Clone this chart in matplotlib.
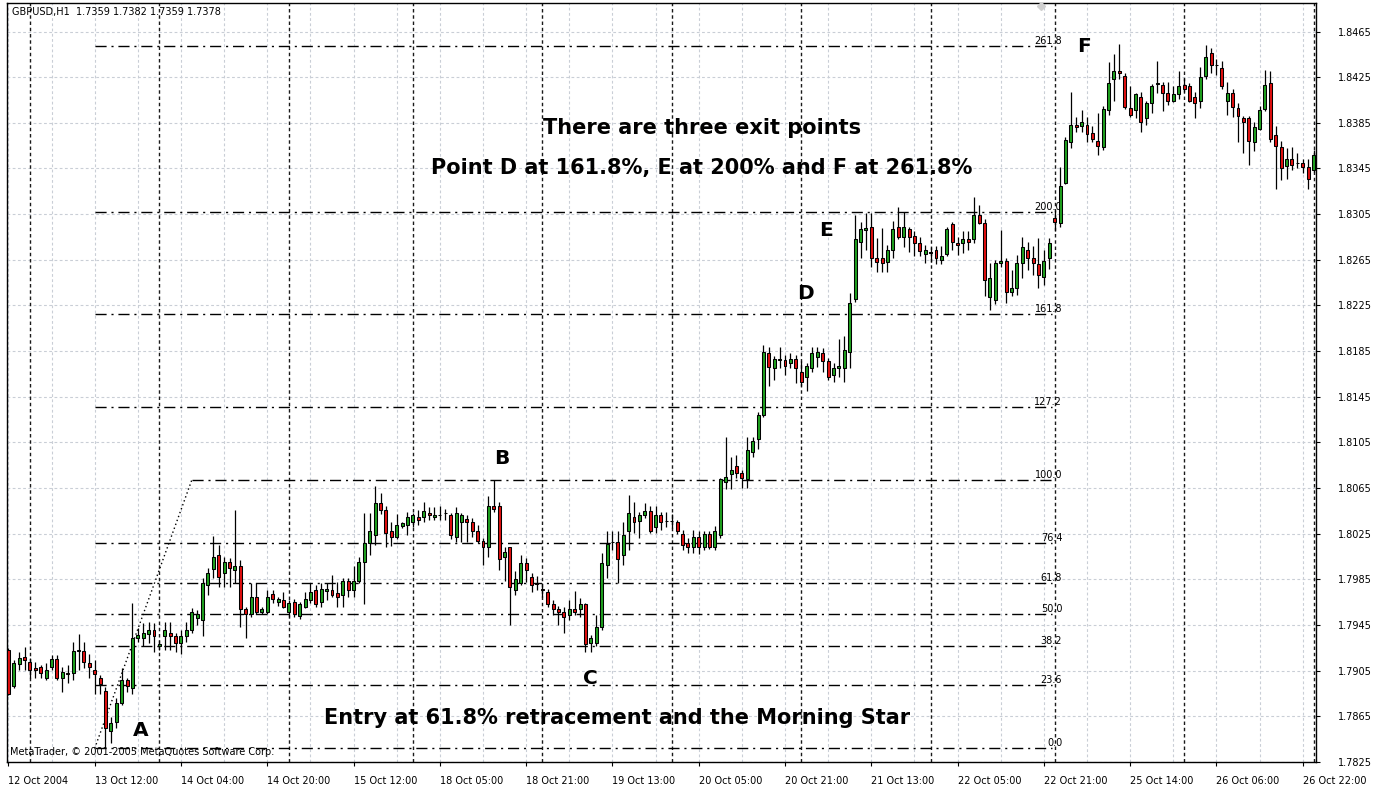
import matplotlib
matplotlib.use("Agg")
import matplotlib.pyplot as plt
import numpy as np

# ---------------- data (prices x 10000) ----------------
open_x1e4 = [17923,17892,17911,17917,17913,17907,17908,17899,17908,17915,17899,17903,17903,17922,17922,17912,17906,17899,17887,17852,
17860,17877,17897,17890,17934,17934,17937,17941,17927,17935,17938,17935,17929,17935,17941,17951,17949,17980,17994,18006,
17991,18000,17993,17997,17959,17955,17970,17956,17956,17972,17965,17967,17956,17965,17953,17961,17967,17976,17965,17975,
17976,17973,17971,17984,17976,17984,18000,18017,18024,18052,18046,18027,18022,18032,18033,18035,18040,18040,18043,18040,
18041,18043,18041,18022,18035,18038,18035,18027,18019,18013,18049,18049,18005,18013,17976,17982,17999,17987,17982,17977,
17974,17963,17959,17956,17954,17959,17959,17963,17929,17929,17943,17998,18018,18018,18006,18027,18040,18036,18041,18045,
18031,18041,18036,18036,18035,18025,18017,18013,18022,18013,18025,18013,18024,18070,18077,18084,18078,18073,18097,18108,
18129,18183,18170,18177,18177,18175,18178,18167,18162,18170,18180,18183,18176,18164,18170,18170,18184,18231,18281,18291,
18294,18267,18267,18263,18274,18294,18285,18292,18286,18280,18270,18272,18274,18265,18270,18296,18280,18280,18283,18283,
18304,18297,18232,18230,18262,18264,18237,18240,18262,18274,18267,18261,18250,18267,18302,18297,18332,18368,18383,18382,
18383,18376,18369,18364,18396,18423,18430,18426,18398,18396,18408,18389,18402,18419,18418,18411,18404,18410,18418,18417,
18408,18404,18426,18446,18436,18433,18404,18411,18398,18389,18389,18368,18380,18397,18420,18374,18364,18347,18353,18350,
18350,18346,18344]
high_x1e4 = [17925,17914,17921,17926,17916,17913,17910,17912,17919,17919,17908,17910,17930,17937,17930,17920,17914,17901,17891,17864,
17881,17907,17899,17964,17942,17947,17948,17947,17932,17948,17948,17938,17941,17948,17960,17958,17986,17995,18023,18015,
18005,18004,18046,18002,17961,17982,17982,17961,17976,17976,17970,17974,17967,17968,17965,17974,17982,17980,17982,17982,
17989,17983,17986,17986,17997,18005,18043,18043,18067,18061,18049,18035,18042,18035,18044,18043,18046,18053,18048,18048,
18049,18047,18043,18048,18043,18041,18039,18033,18021,18058,18072,18053,18013,18013,17992,18006,18004,17991,17988,17982,
17977,17967,17962,17961,17967,17975,17969,17964,17936,17954,18008,18027,18027,18027,18035,18059,18053,18044,18052,18049,
18049,18044,18044,18042,18037,18028,18021,18028,18027,18027,18027,18032,18074,18110,18092,18094,18081,18110,18110,18132,
18190,18189,18181,18189,18182,18183,18182,18176,18175,18189,18189,18188,18179,18175,18196,18198,18236,18304,18298,18306,
18306,18284,18293,18278,18299,18311,18307,18294,18290,18285,18278,18276,18277,18277,18294,18298,18285,18290,18290,18320,
18313,18301,18262,18265,18291,18267,18256,18269,18285,18281,18277,18284,18274,18284,18309,18346,18373,18412,18390,18396,
18390,18382,18394,18400,18438,18445,18454,18429,18417,18411,18412,18404,18419,18439,18421,18421,18417,18430,18424,18420,
18412,18434,18453,18451,18441,18439,18421,18415,18402,18391,18391,18386,18400,18431,18430,18382,18369,18363,18364,18359,
18353,18353,18361]
low_x1e4 = [17884,17890,17906,17906,17899,17899,17899,17897,17906,17897,17886,17894,17897,17906,17907,17899,17885,17885,17837,17842,
17855,17875,17886,17885,17930,17927,17929,17921,17923,17923,17923,17921,17920,17930,17938,17945,17935,17971,17986,17978,
17978,17978,17982,17943,17934,17952,17955,17955,17955,17964,17962,17960,17952,17952,17950,17960,17964,17961,17961,17967,
17970,17961,17961,17970,17970,17982,17963,18006,18015,18042,18013,18014,18020,18030,18024,18031,18033,18035,18037,18037,
18037,18037,18020,18018,18018,18018,18022,18017,17998,18005,18044,17993,17984,17945,17971,17980,17983,17974,17976,17970,
17961,17954,17945,17938,17949,17954,17952,17921,17921,17927,17941,17986,18011,17982,17998,18011,18026,18021,18039,18026,
18026,18028,18031,18030,18025,18011,18008,18008,18007,18011,18012,18011,18021,18064,18064,18074,18065,18065,18092,18099,
18127,18154,18160,18170,18164,18170,18157,18154,18150,18167,18171,18167,18160,18158,18162,18158,18170,18228,18267,18274,
18259,18254,18254,18254,18267,18283,18276,18272,18268,18268,18262,18263,18261,18261,18268,18274,18269,18271,18274,18280,
18296,18233,18221,18226,18259,18227,18233,18234,18249,18256,18252,18240,18243,18257,18290,18294,18331,18363,18377,18377,
18368,18368,18357,18361,18392,18404,18423,18397,18390,18389,18377,18383,18394,18411,18395,18401,18403,18406,18412,18403,
18389,18398,18423,18429,18427,18415,18392,18390,18368,18359,18348,18360,18379,18395,18368,18327,18335,18336,18344,18345,
18341,18327,18342]
close_x1e4 = [17885,17912,17916,17914,17906,17906,17903,17906,17915,17899,17904,17902,17922,17923,17913,17908,17902,17893,17855,17859,
17877,17897,17892,17934,17936,17938,17941,17935,17928,17941,17935,17929,17935,17941,17956,17955,17982,17991,18005,17987,
18000,17995,17997,17959,17955,17970,17956,17959,17970,17968,17968,17961,17964,17955,17963,17968,17974,17963,17977,17977,
17971,17970,17984,17976,17984,18000,18017,18027,18052,18046,18026,18022,18033,18034,18040,18041,18037,18045,18041,18041,
18041,18043,18024,18043,18041,18035,18027,18019,18013,18049,18047,18003,18009,17978,17985,17999,17993,17980,17981,17976,
17963,17959,17956,17952,17959,17956,17963,17928,17934,17943,17999,18016,18018,18003,18024,18043,18035,18041,18045,18027,
18041,18035,18036,18036,18027,18015,18013,18022,18013,18025,18013,18027,18073,18075,18081,18078,18074,18098,18106,18129,
18184,18171,18178,18178,18172,18178,18170,18158,18172,18183,18184,18176,18162,18170,18172,18186,18227,18283,18292,18293,
18267,18263,18262,18274,18292,18285,18294,18285,18280,18273,18274,18271,18267,18268,18292,18281,18278,18283,18281,18304,
18297,18247,18249,18262,18264,18237,18240,18262,18276,18267,18262,18252,18264,18280,18298,18330,18370,18383,18381,18386,
18375,18371,18365,18397,18420,18430,18429,18399,18392,18410,18386,18402,18417,18420,18411,18404,18410,18417,18415,18404,
18402,18425,18443,18436,18436,18417,18411,18399,18391,18386,18369,18381,18396,18418,18371,18365,18345,18353,18348,18350,
18346,18336,18357]

time_labels = ["12 Oct 2004", "13 Oct 12:00", "14 Oct 04:00", "14 Oct 20:00", "15 Oct 12:00",
               "18 Oct 05:00", "18 Oct 21:00", "19 Oct 13:00", "20 Oct 05:00", "20 Oct 21:00",
               "21 Oct 13:00", "22 Oct 05:00", "22 Oct 21:00", "25 Oct 14:00", "26 Oct 06:00",
               "26 Oct 22:00"]
label_bars = list(range(0, 241, 16))
day_start_bars = [4, 28, 52, 75, 99, 123, 147, 171, 194, 218, 242]
price_ticks = [1.7825, 1.7865, 1.7905, 1.7945, 1.7985, 1.8025, 1.8065, 1.8105, 1.8145,
               1.8185, 1.8225, 1.8265, 1.8305, 1.8345, 1.8385, 1.8425, 1.8465]

fib_low = 1.7837   # point A
fib_high = 1.8072  # point B
fib_levels = [0.0, 0.236, 0.382, 0.5, 0.618, 0.764, 1.0, 1.272, 1.618, 2.0, 2.618]
fib_names = ["0.0", "23.6", "38.2", "50.0", "61.8", "76.4", "100.0", "127.2", "161.8", "200.0", "261.8"]
fib_start_bar, fib_end_bar, fib_trend_end_bar = 16, 193.6, 34

opens = np.array(open_x1e4) / 1e4
highs = np.array(high_x1e4) / 1e4
lows = np.array(low_x1e4) / 1e4
closes = np.array(close_x1e4) / 1e4
x = np.arange(len(opens))

# ---------------- figure ----------------
W, H = 1374, 793
fig = plt.figure(figsize=(W / 100, H / 100), dpi=100)
L, R, T, B = 7, 1316, 3, 762
ax = fig.add_axes([L / W, (H - B) / H, (R - L) / W, (B - T) / H])
ax.set_xlim(-0.26, 242.46)
ax.set_ylim(1.7825, 1.8490)

grid_col = "#C9CED6"
# light grid
for gx in range(0, 243, 8):
    ax.axvline(gx, color=grid_col, lw=0.8, ls=(0, (2.5, 2.2)), zorder=0.5)
for gy in price_ticks:
    ax.axhline(gy, color=grid_col, lw=0.8, ls=(0, (2.5, 2.2)), zorder=0.5)
# period separators
for sx in day_start_bars:
    ax.axvline(sx, color="#1a1a1a", lw=1.0, ls=(0, (2.5, 2.0)), zorder=1)

# fibonacci
fib_dash = (0, (8, 3.5, 1.5, 3.5))
rng = fib_high - fib_low
for lvl, name in zip(fib_levels, fib_names):
    yv = fib_low + lvl * rng
    xs = fib_trend_end_bar if lvl == 1.0 else fib_start_bar
    ax.plot([xs, fib_end_bar], [yv, yv], color="black", lw=1.0, ls=fib_dash, zorder=1.5)
    ax.text(195.4, yv, name, ha="right", va="bottom", fontsize=7, color="black", zorder=1.6)
ax.plot([fib_start_bar, fib_trend_end_bar], [fib_low, fib_high], color="black", lw=1.0,
        ls=(0, (1, 2)), zorder=1.5)

# candles
up = closes >= opens
ax.vlines(x, lows, highs, color="black", lw=0.9, zorder=3)
body_bottom = np.minimum(opens, closes)
body_h = np.abs(closes - opens)
ax.bar(x[up], body_h[up], bottom=body_bottom[up], width=0.55, color="#1FA01F",
       edgecolor="black", linewidth=0.75, zorder=3.5)
ax.bar(x[~up], body_h[~up], bottom=body_bottom[~up], width=0.55, color="#E01010",
       edgecolor="black", linewidth=0.75, zorder=3.5)

# axes styling
for s in ax.spines.values():
    s.set_color("black")
    s.set_linewidth(1.0)
ax.yaxis.tick_right()
ax.set_yticks(price_ticks)
ax.set_yticklabels([f"{p:.4f}" for p in price_ticks])
ax.tick_params(axis="y", length=3, width=0.8, pad=13, labelsize=7, colors="black")
ax.set_xticks(label_bars)
ax.set_xticklabels(time_labels, ha="left")
ax.tick_params(axis="x", length=3, width=0.8, pad=7, labelsize=7, colors="black")


def px(xp, yp):
    return ((xp - L) / (R - L), (B - yp) / (B - T))


ax.text(*px(12, 12), "GBPUSD,H1  1.7359 1.7382 1.7359 1.7378", transform=ax.transAxes,
        ha="left", va="center", fontsize=7, zorder=5)
ax.text(*px(10, 752), "MetaTrader, \u00a9 2001-2005 MetaQuotes Software Corp.", transform=ax.transAxes,
        ha="left", va="center", fontsize=7, zorder=5)

for lab, (lx, ly) in {"A": (141, 730), "B": (502, 459), "C": (590, 679),
                      "D": (805, 293), "E": (826, 231), "F": (1084, 46)}.items():
    ax.text(*px(lx, ly), lab, transform=ax.transAxes, ha="center", va="center",
            fontsize=14.5, fontweight="bold", zorder=6)

ax.text(*px(702, 128), "There are three exit points", transform=ax.transAxes,
        ha="center", va="center", fontsize=15, fontweight="bold", zorder=6)
ax.text(*px(702, 168), "Point D at 161.8%, E at 200% and F at 261.8%", transform=ax.transAxes,
        ha="center", va="center", fontsize=15, fontweight="bold", zorder=6)
ax.text(*px(617, 718), "Entry at 61.8% retracement and the Morning Star", transform=ax.transAxes,
        ha="center", va="center", fontsize=15, fontweight="bold", zorder=6)

ax.plot(*px(1041, 6), marker="D", ms=4, color="#D0D0D0", transform=ax.transAxes,
        clip_on=False, zorder=6)

fig.savefig("out.png", dpi=100)
